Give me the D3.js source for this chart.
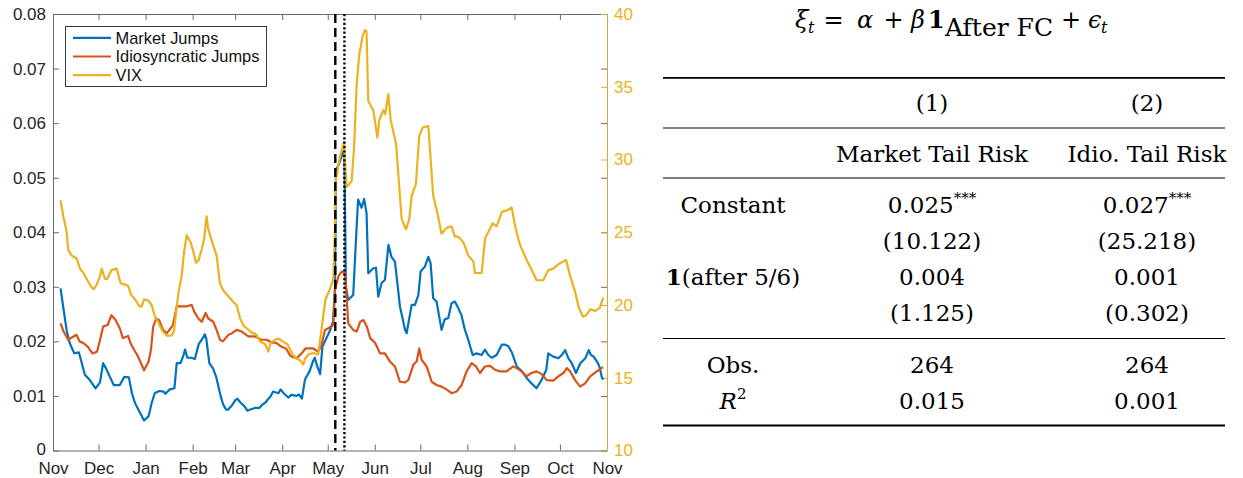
<!DOCTYPE html>
<html>
<head>
<meta charset="utf-8">
<script src="https://cdn.jsdelivr.net/npm/d3@7"></script>
<style>
    body { margin: 0; background: white; }
    svg { display: block; }
</style>
</head>
<body>
<svg id="chart"></svg>
<script>
//sample window and event dates
const START = "2009-11-01";
const END = "2010-11-01";
const EVENT_DATES = ["2010-05-06", "2010-05-12"]; //flash crash (dashed), follow-up (dotted)

//series: [days since START, value]
const marketJumps = [
    [5,0.0297],[7,0.0258],[9,0.022],[11,0.0197],[14,0.0178],[17,0.018],[19,0.016],[21,0.0139],[24,0.013],[28,0.0114],
    [31,0.0125],[33,0.016],[35,0.015],[37.5,0.0135],[40,0.012],[44,0.012],[47,0.0135],[50,0.0134],[52,0.0105],[54,0.0087],
    [57,0.0071],[60,0.0055],[63,0.0063],[65,0.0087],[67,0.0105],[70,0.0109],[73,0.0108],[74,0.0104],[77,0.0112],[80,0.0114],
    [81.5,0.016],[84,0.016],[86,0.0175],[87,0.0185],[88.5,0.017],[91,0.017],[93.5,0.0168],[96,0.0195],[98.5,0.0205],[100,0.0213],
    [101,0.0205],[103,0.016],[105.5,0.015],[107.5,0.0135],[110,0.0105],[112,0.0085],[114,0.0075],[115.5,0.0075],[118,0.0083],[120,0.0092],
    [121.5,0.0095],[123.5,0.0088],[126.5,0.008],[128,0.0073],[130,0.0075],[133,0.0078],[136,0.0078],[137.5,0.0083],[140,0.0088],[142,0.0095],
    [143.5,0.01],[145,0.0108],[148.5,0.0105],[150,0.0112],[152,0.0105],[155,0.0097],[157,0.0102],[160.5,0.01],[162,0.0103],[164,0.0095],
    [166,0.013],[169,0.0145],[171.5,0.0165],[172.5,0.017],[174,0.0155],[176,0.014],[177.5,0.019],[180,0.0205],[182.5,0.022],[184.5,0.0236],
    [185.8,0.03],[186.4,0.0514],[188.6,0.0526],[191.3,0.0548],[192,0.054],[193,0.03],[194.5,0.0276],[197.8,0.0285],[199.5,0.038],[201,0.046],
    [203.3,0.0445],[205,0.0461],[206.6,0.0435],[207.7,0.0325],[211,0.0334],[212.8,0.0335],[214.3,0.0282],[216.5,0.0307],[218.7,0.0313],[221,0.0377],
    [223,0.0355],[225.3,0.0346],[228.6,0.0264],[232,0.0221],[233,0.0215],[236.3,0.0267],[238.5,0.0267],[240.7,0.0285],[242.2,0.0328],[245,0.0337],
    [247.3,0.0355],[248.8,0.0343],[250.5,0.0279],[252.7,0.0273],[256,0.0221],[258,0.024],[260.4,0.0243],[262.6,0.027],[264.8,0.0273],[267,0.0261],
    [269,0.0249],[271.4,0.0221],[273.6,0.0203],[276.5,0.0175],[279,0.0178],[282.4,0.0175],[284.6,0.0185],[286.8,0.0175],[289,0.017],[292.3,0.0175],
    [295.7,0.0194],[298,0.0194],[300,0.0191],[302.3,0.018],[305.6,0.0154],[309,0.0145],[312,0.0133],[315.3,0.0123],[318.6,0.0114],[322,0.013],
    [325,0.0148],[326.3,0.0178],[329.6,0.0172],[333,0.0169],[335.2,0.0175],[337.4,0.0184],[339.6,0.0169],[341.8,0.016],[344.6,0.0142],[347.4,0.016],
    [350.7,0.0169],[353,0.0184],[354.4,0.0175],[356.2,0.0172],[358.4,0.0163],[360,0.0154],[361.7,0.0133],[362.7,0.013]
];

const idioJumps = [
    [5,0.0233],[7,0.0218],[10,0.0203],[13.5,0.0209],[15.5,0.0212],[17.5,0.02],[20,0.0197],[23,0.019],[26,0.0178],[29,0.0181],
    [31,0.0203],[33,0.0227],[36,0.023],[38.5,0.0248],[41,0.024],[44,0.0224],[46,0.0206],[49.5,0.021],[51,0.0197],[53.5,0.0184],
    [55.5,0.0175],[57.5,0.0163],[60,0.0147],[63,0.0163],[64.5,0.0184],[66,0.0227],[68,0.0242],[70,0.0239],[72.5,0.0221],[75,0.0215],
    [77.5,0.0224],[79,0.023],[81.5,0.0264],[85,0.0264],[88,0.0264],[91.3,0.0267],[93,0.0255],[95.7,0.0242],[98,0.0236],[100.6,0.0252],
    [102.3,0.0242],[105.6,0.0236],[107.8,0.0221],[110,0.0203],[112,0.02],[115.5,0.0212],[118,0.0215],[121,0.0221],[124.3,0.0218],[128.7,0.0209],
    [133,0.0209],[137.5,0.0203],[141,0.0203],[144,0.0198],[147.3,0.0197],[150.6,0.019],[153.5,0.0187],[156.6,0.0173],[160.5,0.0169],[163.8,0.0178],
    [166.4,0.0187],[171.5,0.0187],[174.8,0.0181],[177,0.0194],[179.2,0.0221],[181.4,0.0224],[184.7,0.023],[185.8,0.0294],[188,0.0319],[190.2,0.0328],
    [192.4,0.0325],[193.4,0.0282],[194.5,0.0233],[197.8,0.0221],[200.1,0.0218],[202.4,0.0236],[204.6,0.0239],[206.8,0.0227],[209,0.0206],[212.3,0.0197],
    [215.4,0.0178],[218.7,0.0178],[222,0.0163],[225.3,0.0154],[228.6,0.0126],[231.9,0.0125],[234.1,0.0129],[237.4,0.0157],[239.6,0.0163],[241.3,0.0187],
    [242.9,0.0166],[246.2,0.0154],[249.5,0.0126],[252.7,0.012],[256,0.0117],[259.3,0.0112],[262.6,0.0105],[265.9,0.0108],[269.2,0.012],[272.5,0.0145],
    [275.8,0.016],[278.7,0.0154],[281.3,0.0142],[284.6,0.0154],[287.9,0.0155],[291.2,0.0148],[294.4,0.0145],[298.8,0.0145],[303.2,0.0154],[305.4,0.0151],
    [308.7,0.0145],[312,0.0136],[315.3,0.0142],[318.6,0.0145],[321.9,0.014],[325.2,0.0129],[329.6,0.0128],[333,0.0136],[336.3,0.0142],[338.5,0.0151],
    [340.7,0.0145],[344,0.0129],[347.3,0.0117],[350.6,0.0123],[353.9,0.0136],[358.3,0.0145],[362.3,0.0153]
];

const vix = [
    [5,27.2],[7,26.0],[9,25.0],[10,23.8],[12.3,23.4],[15.6,23.2],[17.8,22.5],[20,22.2],[22.6,21.7],[25.5,21.2],
    [27,21.1],[28.8,21.4],[31,22.0],[32.1,22.5],[34.3,21.8],[35.8,21.8],[38.6,22.4],[41.9,22.5],[44.6,21.5],[47.4,21.4],
    [49.6,21.3],[51.4,20.7],[54,20.4],[56.9,19.9],[58.4,19.9],[60,20.4],[62.8,20.3],[65,20.0],[67.2,19.2],[69.4,18.8],
    [72.2,18.2],[74.9,17.9],[78.2,17.9],[79.7,18.2],[81,19.4],[82.6,20.8],[84.8,22.0],[86.3,23.6],[88.1,24.8],[90.7,24.3],
    [92.4,23.7],[94.2,22.9],[96,23.1],[97.9,23.8],[99.5,24.5],[101.2,26.1],[102.3,25.2],[105.6,24.1],[107.8,23.4],[110,21.5],
    [112.2,21.0],[115.5,20.6],[118.8,20.2],[121,20.0],[123.2,19.1],[125.4,18.6],[127.6,18.4],[130.9,18.1],[133.7,18.0],[136.4,17.5],
    [139.7,17.3],[141.9,16.8],[143.4,17.4],[146.2,17.6],[148.4,17.7],[151.3,17.5],[154.4,17.3],[157.9,16.6],[160.5,16.3],[162.7,16.2],
    [164.9,15.9],[166,16.3],[168.2,16.6],[171.5,16.7],[174.8,16.6],[177,18.4],[179.5,20.4],[182.5,21.1],[184.7,21.8],[185.8,25.5],
    [186.4,28.6],[189.1,30.2],[191.7,31.2],[193.4,28.1],[196.7,28.5],[198.3,30.7],[200.1,35.2],[201.8,37.2],[204,38.5],[205.6,38.9],
    [206.6,38.8],[207.7,34.0],[211,33.4],[213.7,31.5],[215,32.7],[217.6,33.4],[218.9,33.1],[220.9,34.5],[222.5,32.7],[226,31.1],
    [229.7,25.9],[232.6,25.2],[234.7,25.9],[236.3,27.5],[239.1,28.3],[241.3,31.6],[243.5,32.2],[247.3,32.3],[250.5,27.5],[253.3,26.3],
    [256,24.9],[259.3,25.3],[262.6,25.4],[264.8,24.7],[267,24.7],[270.4,24.3],[273.6,23.4],[276.9,23.0],[278,22.2],[282.4,22.2],
    [284.6,24.5],[285.7,24.8],[289.6,25.6],[292.3,25.4],[295.7,26.4],[298.9,26.5],[302.2,26.7],[304.5,25.4],[306.7,24.5],[307.8,24.1],
    [312.1,23.1],[316.4,22.2],[318.6,21.7],[323,21.7],[326.3,22.4],[329.6,22.5],[333,22.8],[336.3,23.0],[338,23.1],[340.7,22.0],
    [344,20.9],[346.2,19.9],[349.1,19.2],[351.3,19.3],[354,19.7],[357.3,19.6],[360.2,19.8],[362.5,20.5]
];

const seriesNames = ["Market Jumps", "Idiosyncratic Jumps", "VIX"];
const leftTicks = [0, 0.01, 0.02, 0.03, 0.04, 0.05, 0.06, 0.07, 0.08];
const rightTicks = [10, 15, 20, 25, 30, 35, 40];

//regression table content
const colNumbers = ["(1)", "(2)"];
const depVars = ["Market Tail Risk", "Idio. Tail Risk"];
const constCoef = ["0.025", "0.027"];
const constStars = ["***", "***"];
const constT = ["(10.122)", "(25.218)"];
const afterCoef = ["0.004", "0.001"];
const afterT = ["(1.125)", "(0.302)"];
const nObs = ["264", "264"];
const rSquared = ["0.015", "0.001"];

//styles
const COLORS = ["#0072BD", "#D95319", "#EDB120"];
const SANS = "'Liberation Sans', Arial, Helvetica, sans-serif";
const SERIF = "'DejaVu Serif', serif";

const width = 1243, height = 478;
const plot = { left: 53, right: 607, top: 14, bottom: 450.5 };

const svg = d3.select("#chart")
    .attr("width", width)
    .attr("height", height)
    .style("background", "white");

const parseDate = d3.timeParse("%Y-%m-%d");
const t0 = parseDate(START);
const dayToDate = d => d3.timeHour.offset(t0, Math.round(d * 24));

//scales
const x = d3.scaleTime()
    .domain([parseDate(START), parseDate(END)])
    .range([plot.left, plot.right]);

const yL = d3.scaleLinear().domain([0, 0.08]).range([plot.bottom, plot.top]);
const yR = d3.scaleLinear().domain([10, 40]).range([plot.bottom, plot.top]);

//axes (ticks point inwards, matlab style)
function styleAxis(g, lineColor, textColor) {
    g.attr("font-family", SANS).attr("font-size", 17);
    g.selectAll(".domain").attr("stroke", lineColor).attr("stroke-width", 1);
    g.selectAll(".tick line").attr("stroke", lineColor).attr("stroke-width", 1);
    g.selectAll(".tick text").attr("fill", textColor);
}

const months = d3.timeMonth.every(1);

svg.append("g")
    .attr("transform", `translate(0,${plot.bottom})`)
    .call(d3.axisBottom(x).ticks(months).tickFormat(d3.timeFormat("%b"))
        .tickSizeInner(-6).tickSizeOuter(0).tickPadding(11))
    .call(g => styleAxis(g, "#6b6b6b", "#262626"));

svg.append("g")
    .attr("transform", `translate(0,${plot.top})`)
    .call(d3.axisTop(x).ticks(months).tickFormat("")
        .tickSizeInner(-6).tickSizeOuter(0))
    .call(g => styleAxis(g, "#6b6b6b", "#262626"));

svg.append("g")
    .attr("transform", `translate(${plot.left},0)`)
    .call(d3.axisLeft(yL).tickValues(leftTicks)
        .tickFormat(d => d === 0 ? "0" : d.toFixed(2))
        .tickSizeInner(-6).tickSizeOuter(0).tickPadding(7))
    .call(g => styleAxis(g, "#6b6b6b", "#262626"))
    //nudge the zero label so it clears the first month label
    .call(g => g.selectAll(".tick text").filter(d => d === 0).attr("y", -1.5));

//left ticks mirrored on the right edge
svg.append("g")
    .attr("transform", `translate(${plot.right},0)`)
    .call(d3.axisRight(yL).tickValues(leftTicks).tickFormat("")
        .tickSizeInner(-6).tickSizeOuter(0))
    .call(g => styleAxis(g, "#6b6b6b", "#262626"));

svg.append("g")
    .attr("transform", `translate(${plot.right},0)`)
    .call(d3.axisRight(yR).tickValues(rightTicks)
        .tickSizeInner(-6).tickSizeOuter(0).tickPadding(7))
    .call(g => styleAxis(g, "#D2A645", COLORS[2]));

//lines
svg.append("clipPath").attr("id", "plot-clip")
    .append("rect")
    .attr("x", plot.left).attr("y", plot.top)
    .attr("width", plot.right - plot.left).attr("height", plot.bottom - plot.top);

const lineL = d3.line().x(d => x(dayToDate(d[0]))).y(d => yL(d[1]));
const lineR = d3.line().x(d => x(dayToDate(d[0]))).y(d => yR(d[1]));

const lines = svg.append("g").attr("clip-path", "url(#plot-clip)");

[[marketJumps, lineL], [idioJumps, lineL], [vix, lineR]].forEach(([data, gen], i) => {
    lines.append("path")
        .datum(data)
        .attr("d", gen)
        .attr("fill", "none")
        .attr("stroke", COLORS[i])
        .attr("stroke-width", 2.2)
        .attr("stroke-linejoin", "round");
});

//event lines: dashed then dotted
const dashes = ["9,5", "2.2,2.2"];
svg.append("g")
    .selectAll("line")
    .data(EVENT_DATES)
    .join("line")
    .attr("x1", d => x(parseDate(d)))
    .attr("x2", d => x(parseDate(d)))
    .attr("y1", plot.top)
    .attr("y2", plot.bottom)
    .attr("stroke", "black")
    .attr("stroke-width", 2.4)
    .attr("stroke-dasharray", (d, i) => dashes[i]);

//legend
const legend = svg.append("g").attr("transform", "translate(65.5,26.5)");
legend.append("rect")
    .attr("width", 201).attr("height", 60)
    .attr("fill", "white")
    .attr("stroke", "#262626")
    .attr("stroke-width", 0.9);

const legendRows = legend.selectAll("g.row")
    .data(seriesNames)
    .join("g")
    .attr("class", "row")
    .attr("transform", (d, i) => `translate(0,${11.3 + i * 18.7})`);

legendRows.append("line")
    .attr("x1", 7.5).attr("x2", 45.5)
    .attr("stroke", (d, i) => COLORS[i])
    .attr("stroke-width", 2.2);

legendRows.append("text")
    .attr("x", 50)
    .attr("y", 5.9)
    .attr("font-family", SANS)
    .attr("font-size", 16.4)
    .attr("fill", "#111")
    .text(d => d);

//regression formula, pieces placed where the typeset version has them
const formula = svg.append("g")
    .attr("font-family", SERIF)
    .attr("fill", "black");

const fParts = [
    { t: "ξ", x: 795, y: 28, it: true },
    { t: "t", x: 808, y: 33, it: true, fs: 16 },
    { t: "=", x: 833.5, y: 28, mid: true },
    { t: "α", x: 857, y: 28, it: true },
    { t: "+", x: 893.5, y: 28, mid: true },
    { t: "β", x: 911, y: 28, it: true },
    { t: "1", x: 928, y: 28, bold: true },
    { t: "After FC", x: 945, y: 36, fs: 25 },
    { t: "+", x: 1071, y: 28, mid: true },
    { t: "ϵ", x: 1088, y: 28, it: true },
    { t: "t", x: 1101, y: 33, it: true, fs: 16 }
];

formula.selectAll("text")
    .data(fParts)
    .join("text")
    .attr("x", d => d.x)
    .attr("y", d => d.y)
    .attr("text-anchor", d => d.mid ? "middle" : "start")
    .attr("font-style", d => d.it ? "italic" : "normal")
    .attr("font-weight", d => d.bold ? "bold" : "normal")
    .attr("font-size", d => d.fs || 24)
    .text(d => d.t);

//table rules
const table = { left: 663, right: 1225, labelX: 733, colX: [932, 1147] };
const rules = [
    { y: 77.8, w: 1.7 },
    { y: 128, w: 1.1 },
    { y: 178, w: 1.1 },
    { y: 338.5, w: 1.1 },
    { y: 425.5, w: 1.8 }
];

svg.append("g")
    .selectAll("line")
    .data(rules)
    .join("line")
    .attr("x1", table.left).attr("x2", table.right)
    .attr("y1", d => d.y).attr("y2", d => d.y)
    .attr("stroke", "black")
    .attr("stroke-width", d => d.w);

const tbl = svg.append("g")
    .attr("font-family", SERIF)
    .attr("font-size", 23)
    .attr("fill", "black")
    .attr("text-anchor", "middle");

function addCell(x0, y0, main, extra) {
    const t = tbl.append("text").attr("x", x0).attr("y", y0);
    t.append("tspan").text(main);
    if (extra) {
        t.append("tspan")
            .attr("font-size", 15)
            .attr("dy", -10)
            .text(extra);
    }
    return t;
}

//column headers
colNumbers.forEach((d, i) => addCell(table.colX[i], 111, d));
depVars.forEach((d, i) => addCell(table.colX[i], 162, d));

//coefficient rows
addCell(table.labelX, 213, "Constant");
constCoef.forEach((d, i) => addCell(table.colX[i], 213, d, constStars[i]));
constT.forEach((d, i) => addCell(table.colX[i], 249, d));

const afterLabel = tbl.append("text").attr("x", table.labelX).attr("y", 285);
afterLabel.append("tspan").attr("font-weight", "bold").text("1");
afterLabel.append("tspan").text("(after 5/6)");
afterCoef.forEach((d, i) => addCell(table.colX[i], 285, d));
afterT.forEach((d, i) => addCell(table.colX[i], 321, d));

//fit statistics
addCell(table.labelX, 373, "Obs.");
nObs.forEach((d, i) => addCell(table.colX[i], 373, d));

const r2Label = tbl.append("text").attr("x", table.labelX).attr("y", 409);
r2Label.append("tspan").attr("font-style", "italic").text("R");
r2Label.append("tspan").attr("font-size", 15).attr("dy", -10).text("2");
rSquared.forEach((d, i) => addCell(table.colX[i], 409, d));
</script>
</body>
</html>
